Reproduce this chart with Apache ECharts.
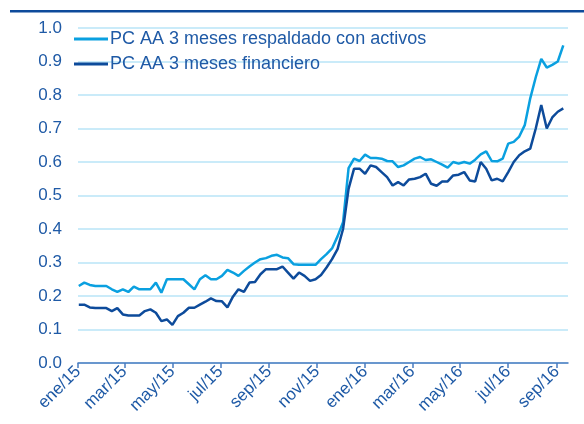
<!DOCTYPE html>
<html>
<head>
<meta charset="utf-8">
<script src="https://cdn.jsdelivr.net/npm/echarts@6/dist/echarts.min.js"></script>
<style>
    html, body { margin: 0; padding: 0; background: #fff; }
    #chart { width: 584px; height: 424px; }
</style>
</head>
<body>
<div id="chart"></div>
<script>
    // weekly observations, first one on 2 Jan 2015
    var startDate = '2015-01-02';
    var seriesNames = ['PC AA 3 meses respaldado con activos', 'PC AA 3 meses financiero'];
    var respaldado = [
        0.23, 0.24, 0.233, 0.23, 0.23, 0.23, 0.22, 0.212, 0.22, 0.212,
        0.228, 0.22, 0.22, 0.22, 0.24, 0.21, 0.25, 0.25, 0.25, 0.25,
        0.235, 0.22, 0.25, 0.262, 0.25, 0.25, 0.26, 0.278, 0.27, 0.26,
        0.275, 0.288, 0.30, 0.31, 0.313, 0.32, 0.323, 0.315, 0.313, 0.295,
        0.293, 0.293, 0.293, 0.293, 0.31, 0.325, 0.342, 0.378, 0.42, 0.582,
        0.61, 0.603, 0.622, 0.612, 0.612, 0.61, 0.603, 0.602, 0.585, 0.59,
        0.60, 0.61, 0.615, 0.606, 0.608, 0.60, 0.592, 0.583, 0.60, 0.595,
        0.60, 0.595, 0.607, 0.623, 0.632, 0.603, 0.602, 0.61, 0.655, 0.66,
        0.676, 0.71, 0.79, 0.853, 0.908, 0.882, 0.89, 0.90, 0.948
    ];
    var financiero = [
        0.174, 0.174, 0.166, 0.164, 0.164, 0.164, 0.155, 0.164, 0.145, 0.142,
        0.142, 0.142, 0.155, 0.16, 0.15, 0.125, 0.13, 0.114, 0.14, 0.15,
        0.165, 0.165, 0.174, 0.183, 0.193, 0.185, 0.184, 0.166, 0.198, 0.22,
        0.212, 0.24, 0.242, 0.265, 0.28, 0.28, 0.28, 0.288, 0.27, 0.252,
        0.27, 0.26, 0.245, 0.25, 0.263, 0.285, 0.31, 0.34, 0.40, 0.52,
        0.58, 0.58, 0.565, 0.59, 0.585, 0.57, 0.555, 0.53, 0.54, 0.53,
        0.548, 0.55, 0.555, 0.565, 0.535, 0.529, 0.542, 0.542, 0.56, 0.562,
        0.57, 0.545, 0.542, 0.60, 0.58, 0.545, 0.55, 0.542, 0.57, 0.60,
        0.62, 0.632, 0.64, 0.70, 0.77, 0.70, 0.733, 0.75, 0.76
    ];
    var tickDates = ['2015-01-01', '2015-03-01', '2015-05-01', '2015-07-01', '2015-09-01', '2015-11-01',
        '2016-01-01', '2016-03-01', '2016-05-01', '2016-07-01', '2016-09-01'];
    var mesesAbr = ['ene', 'feb', 'mar', 'abr', 'may', 'jun', 'jul', 'ago', 'sep', 'oct', 'nov', 'dic'];

    // x axis in days counted from 1 Jan 2015
    var DAY = 24 * 3600 * 1000;
    var t0 = Date.UTC(2015, 0, 1);
    function dayOf(s) {
        var p = s.split('-');
        return Math.round((Date.UTC(+p[0], +p[1] - 1, +p[2]) - t0) / DAY);
    }
    function toPairs(values) {
        var d0 = dayOf(startDate);
        return values.map(function (v, i) { return [d0 + i * 7, v]; });
    }
    var tickDays = tickDates.map(dayOf);

    var textColor = '#1f5aa6';
    var font = 'Liberation Sans, Arial, sans-serif';

    var chart = echarts.init(document.getElementById('chart'));
    chart.setOption({
        animation: false,
        graphic: [{
            type: 'rect',
            shape: { x: 10, y: 10, width: 574, height: 2.5 },
            style: { fill: '#0d4b9b' }
        }],
        grid: { left: 78, right: 16, top: 28, bottom: 61 },
        legend: {
            orient: 'vertical',
            left: 74,
            top: 30,
            padding: 0,
            itemWidth: 34,
            itemHeight: 3,
            itemGap: 7,
            icon: 'rect',
            textStyle: { color: textColor, fontSize: 18, fontFamily: font, padding: [0, 0, 0, -3] },
            data: seriesNames
        },
        xAxis: {
            type: 'value',
            min: 0,
            max: dayOf('2016-09-15'),
            axisLine: { lineStyle: { color: '#4a7cc0', width: 1.5 } },
            axisTick: { show: true, length: 5, customValues: tickDays, lineStyle: { color: '#4a7cc0', width: 1.5 } },
            splitLine: { show: false },
            axisLabel: {
                customValues: tickDays,
                rotate: 45,
                margin: 6,
                color: textColor,
                fontSize: 17,
                fontFamily: font,
                formatter: function (val) {
                    var d = new Date(t0 + val * DAY);
                    return mesesAbr[d.getUTCMonth()] + '/' + String(d.getUTCFullYear()).slice(2);
                }
            }
        },
        yAxis: {
            type: 'value',
            min: 0,
            max: 1,
            interval: 0.1,
            axisLine: { show: false },
            axisTick: { show: false },
            splitLine: { lineStyle: { color: '#b8e4f7', width: 1.5 } },
            axisLabel: {
                color: textColor,
                fontSize: 17,
                fontFamily: font,
                margin: 16,
                formatter: function (v) { return v.toFixed(1); }
            }
        },
        series: [
            {
                name: seriesNames[0],
                type: 'line',
                showSymbol: false,
                data: toPairs(respaldado),
                lineStyle: { color: '#0aa0e0', width: 2.5 },
                itemStyle: { color: '#0aa0e0' }
            },
            {
                name: seriesNames[1],
                type: 'line',
                showSymbol: false,
                data: toPairs(financiero),
                lineStyle: { color: '#0d4b9b', width: 2.5 },
                itemStyle: { color: '#0d4b9b' }
            }
        ]
    });
</script>
</body>
</html>
